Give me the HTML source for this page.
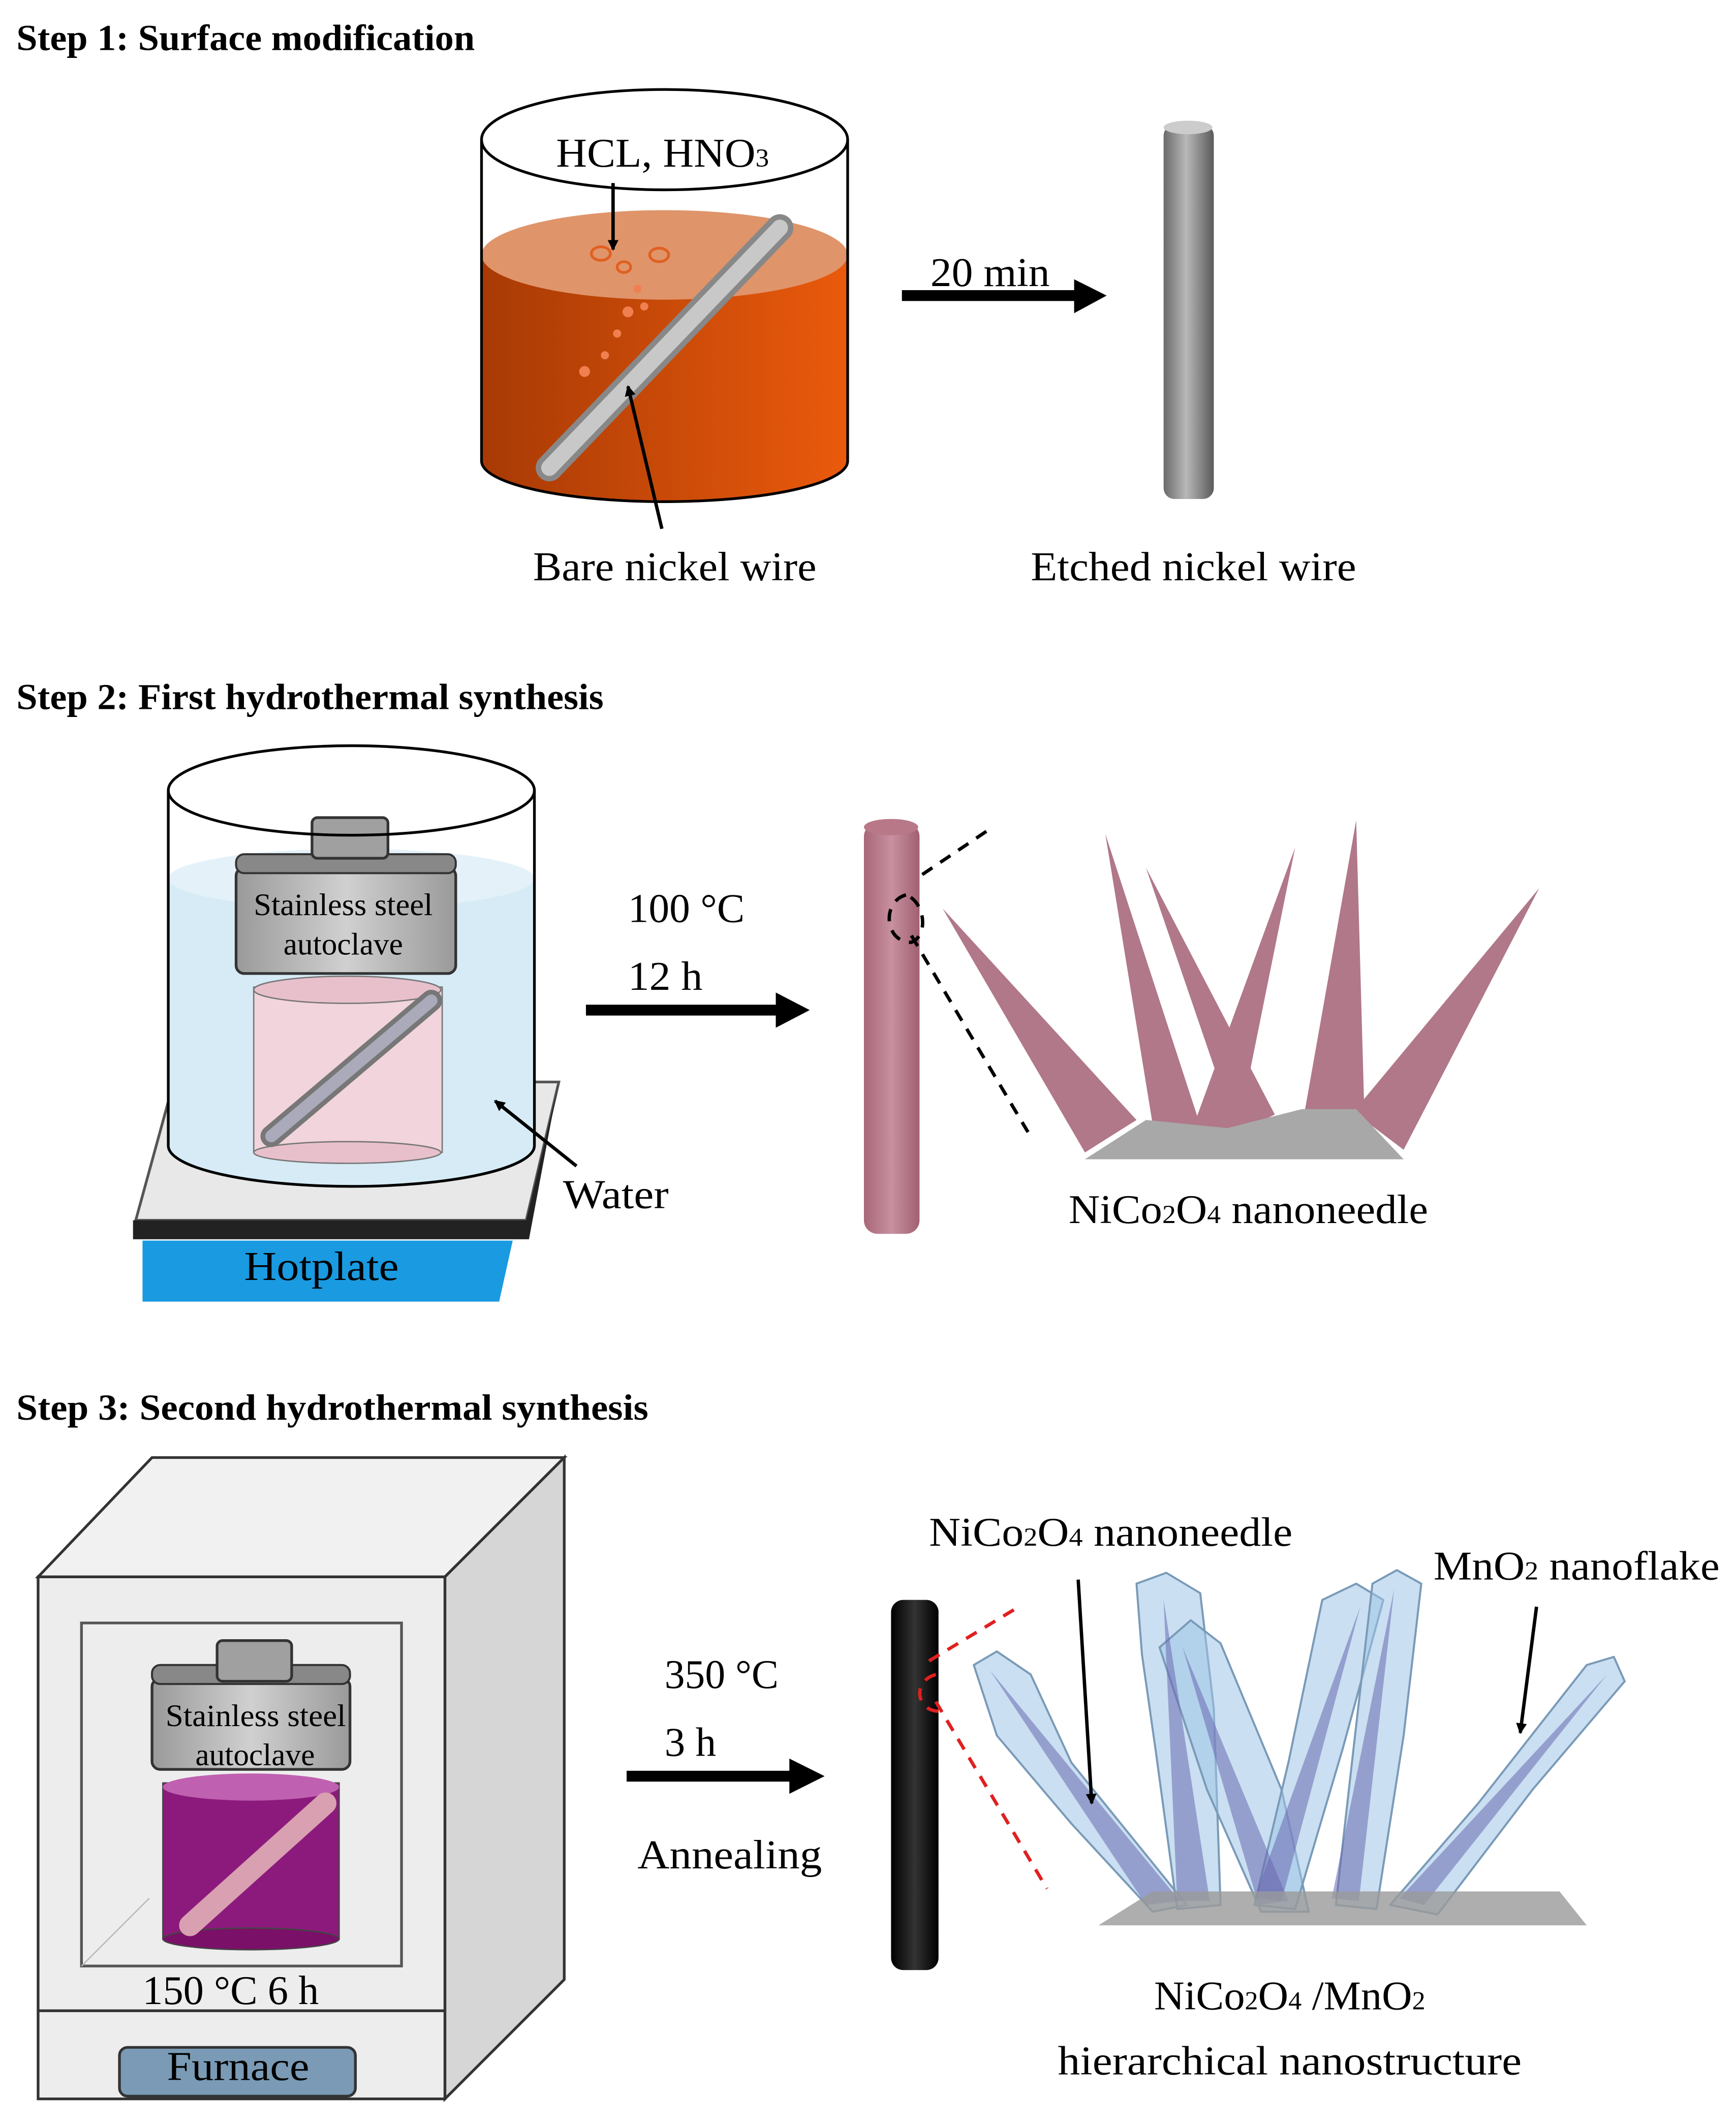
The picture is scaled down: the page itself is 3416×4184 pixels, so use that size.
<!DOCTYPE html>
<html><head><meta charset="utf-8"><style>
html,body{margin:0;padding:0;background:#fff;}
svg{display:block;}
text{font-family:"Liberation Serif",serif;fill:#000;}
.h{font-weight:bold;font-size:27px;}
.l{font-size:30px;}
</style></head><body>
<svg width="3416" height="4184" viewBox="0 0 1280 1568" xmlns="http://www.w3.org/2000/svg">
<defs>
<linearGradient id="or" x1="0" x2="1"><stop offset="0" stop-color="#a83a05"/><stop offset="1" stop-color="#ea5a0c"/></linearGradient>
<linearGradient id="gr" x1="0" x2="1"><stop offset="0" stop-color="#6a6a6a"/><stop offset=".45" stop-color="#b8b8b8"/><stop offset="1" stop-color="#5a5a5a"/></linearGradient>
<linearGradient id="pk" x1="0" x2="1"><stop offset="0" stop-color="#a86878"/><stop offset=".5" stop-color="#c890a0"/><stop offset="1" stop-color="#a06070"/></linearGradient>
<linearGradient id="bk" x1="0" x2="1"><stop offset="0" stop-color="#000"/><stop offset=".5" stop-color="#333"/><stop offset="1" stop-color="#000"/></linearGradient>
<linearGradient id="st" x1="0" x2="1"><stop offset="0" stop-color="#9a9a9a"/><stop offset=".5" stop-color="#d0d0d0"/><stop offset="1" stop-color="#9a9a9a"/></linearGradient>
<marker id="ah" markerWidth="8" markerHeight="8" refX="7" refY="4" orient="auto" markerUnits="userSpaceOnUse" viewBox="0 0 8 8"><path d="M0,0 L8,4 L0,8 z" fill="#000"/></marker>
</defs>

<!-- STEP 1 -->
<text class="h" x="12" y="37" textLength="338" lengthAdjust="spacingAndGlyphs">Step 1: Surface modification</text>
<path d="M355,188 L355,340 A135,30 0 0 0 625,340 L625,188 Z" fill="url(#or)"/>
<ellipse cx="490" cy="188" rx="135" ry="33" fill="#e0946a"/>
<ellipse cx="490" cy="103" rx="135" ry="37" fill="none" stroke="#000" stroke-width="2"/>
<path d="M355,103 L355,340 A135,30 0 0 0 625,340 L625,103" fill="none" stroke="#000" stroke-width="2"/>
<line x1="405" y1="345" x2="575" y2="168" stroke="#888" stroke-width="20" stroke-linecap="round"/>
<line x1="405" y1="345" x2="575" y2="168" stroke="#c8c8c8" stroke-width="12" stroke-linecap="round"/>
<g fill="none" stroke="#e06020" stroke-width="2"><ellipse cx="443" cy="187" rx="7" ry="5"/><ellipse cx="486" cy="188" rx="7" ry="5"/><ellipse cx="460" cy="197" rx="5" ry="4"/></g>
<g fill="#f08050"><circle cx="470" cy="213" r="3"/><circle cx="475" cy="226" r="3"/><circle cx="463" cy="230" r="4"/><circle cx="455" cy="246" r="3"/><circle cx="446" cy="262" r="3"/><circle cx="431" cy="274" r="4"/></g>
<text class="l" x="410" y="123" textLength="157" lengthAdjust="spacingAndGlyphs">HCL, HNO<tspan font-size="19">3</tspan></text>
<line x1="452" y1="135" x2="452" y2="184" stroke="#000" stroke-width="2.5" marker-end="url(#ah)"/>
<line x1="488" y1="390" x2="463" y2="285" stroke="#000" stroke-width="2.5" marker-end="url(#ah)"/>
<text class="l" x="393" y="428" textLength="209" lengthAdjust="spacingAndGlyphs">Bare nickel wire</text>
<line x1="665" y1="218" x2="795" y2="218" stroke="#000" stroke-width="8"/>
<path d="M792,206 L816,218 L792,231 z" fill="#000"/>
<text class="l" x="686" y="211" textLength="88" lengthAdjust="spacingAndGlyphs">20 min</text>
<rect x="858" y="92" width="37" height="276" rx="8" fill="url(#gr)"/>
<ellipse cx="876" cy="94" rx="18" ry="5" fill="#ccc"/>
<text class="l" x="760" y="428" textLength="240" lengthAdjust="spacingAndGlyphs">Etched nickel wire</text>

<!-- STEP 2 -->
<text class="h" x="12" y="523" textLength="433" lengthAdjust="spacingAndGlyphs">Step 2: First hydrothermal synthesis</text>
<path d="M100,900 L128,798 L412,798 L388,900 Z" fill="#e8e8e8" stroke="#555" stroke-width="2"/>
<path d="M98,900 L388,900 L412,798 L408,818 L390,914 L98,914 Z" fill="#222"/>
<path d="M105,915 L378,915 L368,960 L105,960 Z" fill="#1a9ae0"/>
<text class="l" x="180" y="944" textLength="114" lengthAdjust="spacingAndGlyphs">Hotplate</text>
<path d="M124,648 L124,845 A135,30 0 0 0 394,845 L394,648 Z" fill="#d6ebf6"/>
<ellipse cx="259" cy="648" rx="135" ry="22" fill="#e4f1f9"/>
<rect x="187" y="728" width="139" height="122" fill="#f2d4dc" stroke="#777"/>
<ellipse cx="256" cy="730" rx="69" ry="10" fill="#e8c0cc" stroke="#777"/>
<ellipse cx="256" cy="850" rx="69" ry="8" fill="#e8c0cc" stroke="#777"/>
<line x1="200" y1="838" x2="318" y2="738" stroke="#777" stroke-width="16" stroke-linecap="round"/>
<line x1="200" y1="838" x2="318" y2="738" stroke="#aab" stroke-width="9" stroke-linecap="round"/>
<rect x="174" y="640" width="162" height="78" rx="6" fill="url(#st)" stroke="#333" stroke-width="2"/>
<rect x="174" y="630" width="162" height="14" rx="6" fill="#888" stroke="#333" stroke-width="1.5"/>
<rect x="230" y="603" width="56" height="30" rx="4" fill="#a0a0a0" stroke="#333" stroke-width="2"/>
<text x="187" y="675" font-size="23" textLength="132" lengthAdjust="spacingAndGlyphs">Stainless steel</text>
<text x="253" y="704" font-size="23" text-anchor="middle">autoclave</text>
<ellipse cx="259" cy="583" rx="135" ry="33" fill="none" stroke="#000" stroke-width="2"/>
<path d="M124,583 L124,845 A135,30 0 0 0 394,845 L394,583" fill="none" stroke="#000" stroke-width="2"/>
<line x1="425" y1="860" x2="365" y2="812" stroke="#000" stroke-width="2.5" marker-end="url(#ah)"/>
<text class="l" x="415" y="891" textLength="78" lengthAdjust="spacingAndGlyphs">Water</text>
<text class="l" x="463" y="680" textLength="86" lengthAdjust="spacingAndGlyphs">100 °C</text>
<text class="l" x="463" y="730" textLength="55" lengthAdjust="spacingAndGlyphs">12 h</text>
<line x1="432" y1="745" x2="575" y2="745" stroke="#000" stroke-width="8"/>
<path d="M572,732 L597,745 L572,758 z" fill="#000"/>
<rect x="637" y="607" width="41" height="303" rx="10" fill="url(#pk)"/>
<ellipse cx="657" cy="610" rx="20" ry="6" fill="#b87888"/>
<g stroke="#000" stroke-width="2.5" stroke-dasharray="9,7" fill="none">
<line x1="680" y1="645" x2="732" y2="610"/><line x1="672" y1="690" x2="758" y2="835"/>
<path d="M668,660 C650,665 652,695 672,695 C685,690 682,665 668,660"/></g>
<g fill="#b07888">
<polygon points="695,670 800,850 838,826"/>
<polygon points="815,615 852,842 885,830"/>
<polygon points="845,640 912,836 940,822"/>
<polygon points="955,625 878,836 912,838"/>
<polygon points="1000,605 962,820 1006,820"/>
<polygon points="1135,655 998,820 1035,848"/>
</g>
<polygon points="800,855 845,826 905,832 960,818 1000,818 1035,855" fill="#a8a8a8"/>
<text class="l" x="788" y="902" textLength="265" lengthAdjust="spacingAndGlyphs">NiCo<tspan font-size="19">2</tspan>O<tspan font-size="19">4</tspan> nanoneedle</text>

<!-- STEP 3 -->
<text class="h" x="12" y="1047" textLength="466" lengthAdjust="spacingAndGlyphs">Step 3: Second hydrothermal synthesis</text>
<polygon points="28,1163 112,1075 416,1075 328,1163" fill="#f2f1f2" stroke="#333" stroke-width="2"/>
<polygon points="328,1163 416,1075 416,1460 328,1548" fill="#d6d6d6" stroke="#333" stroke-width="2"/>
<rect x="28" y="1163" width="300" height="385" fill="#eeedee" stroke="#333" stroke-width="2"/>
<rect x="60" y="1197" width="236" height="253" fill="none" stroke="#555" stroke-width="2"/>
<line x1="60" y1="1450" x2="110" y2="1400" stroke="#bbb"/>
<line x1="28" y1="1483" x2="328" y2="1483" stroke="#333" stroke-width="2"/>
<rect x="88" y="1510" width="174" height="36" rx="6" fill="#7a9ab5" stroke="#333" stroke-width="2"/>
<text class="l" x="123" y="1534" textLength="105" lengthAdjust="spacingAndGlyphs">Furnace</text>
<text class="l" x="105" y="1478" textLength="130" lengthAdjust="spacingAndGlyphs">150 °C 6 h</text>
<rect x="120" y="1315" width="130" height="115" fill="#8c1a7c" stroke="#444"/>
<ellipse cx="185" cy="1318" rx="65" ry="10" fill="#c060b0"/>
<ellipse cx="185" cy="1430" rx="65" ry="8" fill="#7a1068" stroke="#444"/>
<line x1="140" y1="1420" x2="240" y2="1330" stroke="#d8a0b0" stroke-width="16" stroke-linecap="round"/>
<rect x="112" y="1238" width="146" height="67" rx="6" fill="url(#st)" stroke="#333" stroke-width="2"/>
<rect x="112" y="1228" width="146" height="14" rx="6" fill="#888" stroke="#333" stroke-width="1.5"/>
<rect x="160" y="1210" width="55" height="30" rx="4" fill="#a0a0a0" stroke="#333" stroke-width="2"/>
<text x="122" y="1273" font-size="23" textLength="133" lengthAdjust="spacingAndGlyphs">Stainless steel</text>
<text x="188" y="1302" font-size="23" text-anchor="middle">autoclave</text>
<text class="l" x="490" y="1245" textLength="84" lengthAdjust="spacingAndGlyphs">350 °C</text>
<text class="l" x="490" y="1295" textLength="38" lengthAdjust="spacingAndGlyphs">3 h</text>
<text class="l" x="470" y="1378" textLength="136" lengthAdjust="spacingAndGlyphs">Annealing</text>
<line x1="462" y1="1310" x2="585" y2="1310" stroke="#000" stroke-width="8"/>
<path d="M582,1297 L608,1310 L582,1323 z" fill="#000"/>
<rect x="657" y="1180" width="35" height="273" rx="9" fill="url(#bk)"/>
<g stroke="#e02020" stroke-width="2.5" stroke-dasharray="9,7" fill="none">
<line x1="685" y1="1225" x2="748" y2="1187"/><line x1="690" y1="1255" x2="772" y2="1393"/>
<path d="M690,1235 C672,1240 676,1262 692,1262"/></g>
<g fill="#9ec4e6" fill-opacity="0.55" stroke="#7a9ab8" stroke-width="1.5" stroke-linejoin="round">
<polygon points="718,1228 735,1218 760,1235 790,1300 875,1405 850,1410 790,1345 735,1280"/>
<polygon points="838,1168 860,1160 885,1175 895,1260 900,1405 868,1408 852,1290 842,1220"/>
<polygon points="855,1215 878,1195 900,1212 945,1320 965,1410 930,1410 890,1320"/>
<polygon points="975,1180 1000,1168 1020,1180 990,1290 955,1408 925,1405 950,1300"/>
<polygon points="1012,1168 1030,1158 1048,1168 1035,1280 1015,1408 985,1405 998,1290"/>
<polygon points="1170,1228 1190,1222 1198,1240 1130,1320 1060,1412 1025,1405 1090,1330"/>
</g>
<g fill="#6a6ab0" fill-opacity="0.55">
<polygon points="730,1232 870,1402 845,1405"/>
<polygon points="858,1180 892,1402 868,1402"/>
<polygon points="872,1215 950,1402 928,1405"/>
<polygon points="1003,1185 945,1402 925,1400"/>
<polygon points="1028,1172 1002,1402 982,1400"/>
<polygon points="1185,1235 1050,1405 1032,1400"/>
</g>
<polygon points="810,1420 850,1395 1150,1395 1170,1420" fill="#9a9a9a" fill-opacity="0.8"/>
<text class="l" x="685" y="1140" textLength="268" lengthAdjust="spacingAndGlyphs">NiCo<tspan font-size="19">2</tspan>O<tspan font-size="19">4</tspan> nanoneedle</text>
<line x1="795" y1="1165" x2="805" y2="1330" stroke="#000" stroke-width="2.5" marker-end="url(#ah)"/>
<text class="l" x="1057" y="1165" textLength="211" lengthAdjust="spacingAndGlyphs">MnO<tspan font-size="19">2</tspan> nanoflake</text>
<line x1="1133" y1="1185" x2="1121" y2="1278" stroke="#000" stroke-width="2.5" marker-end="url(#ah)"/>
<text class="l" x="851" y="1482" textLength="200" lengthAdjust="spacingAndGlyphs">NiCo<tspan font-size="19">2</tspan>O<tspan font-size="19">4</tspan> /MnO<tspan font-size="19">2</tspan></text>
<text class="l" x="780" y="1530" textLength="342" lengthAdjust="spacingAndGlyphs">hierarchical nanostructure</text>
</svg>
</body></html>
